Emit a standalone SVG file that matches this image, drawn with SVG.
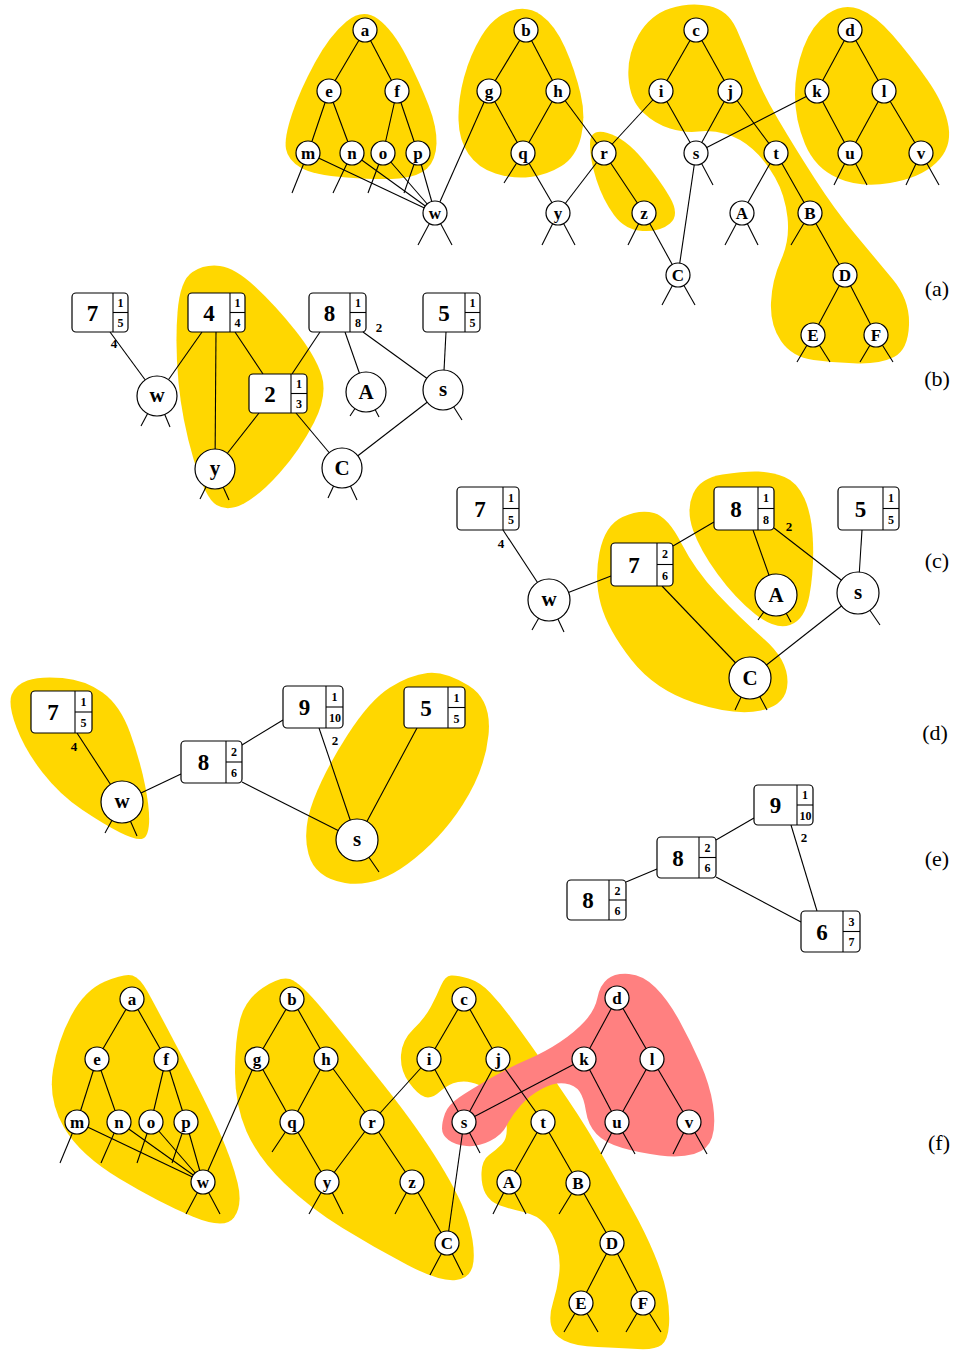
<svg xmlns="http://www.w3.org/2000/svg" width="957" height="1351" viewBox="0 0 957 1351">
<style>
.y{fill:#FFD700}
.pk{fill:#FF8080}
.e line{stroke:#000;stroke-width:1.1}
.tn circle{fill:#fff;stroke:#000;stroke-width:1.2}
.tn text{font-family:"Liberation Serif",serif;font-weight:bold;font-size:17px;text-anchor:middle}
.bn circle{fill:#fff;stroke:#000;stroke-width:1.2}
.bn text{font-family:"Liberation Serif",serif;font-weight:bold;font-size:21px;text-anchor:middle}
.bx rect{fill:#fff;stroke:#000;stroke-width:1.2}
.bx line{stroke:#000;stroke-width:1.1}
.bx .m{font-family:"Liberation Serif",serif;font-weight:bold;font-size:23px;text-anchor:middle}
.bx .s{font-family:"Liberation Serif",serif;font-weight:bold;font-size:12px;text-anchor:middle}
.el{font-family:"Liberation Serif",serif;font-weight:bold;font-size:13px;text-anchor:middle}
.lab{font-family:"Liberation Serif",serif;font-size:22px;text-anchor:middle}
</style>

<!-- ========== (a) ========== -->
<g id="a-blobs">
<path class="y" d="M 378 19 Q 393 30 406.5 56.5 Q 420 83 428.5 105 Q 437 127 436.5 143.5 Q 436 160 427 168.5 Q 418 177 399 178.5 Q 380 180 346.5 177.5 Q 313 175 300.5 167.5 Q 288 160 286 149 Q 284 138 292 114 Q 300 90 315 62.5 Q 330 35 346.5 21.5 Q 363 8 378 19 Z"/>
<path class="y" d="M 541 15 Q 555 25 565 47.5 Q 575 70 580.5 93.5 Q 586 117 581 137 Q 576 157 561.5 166 Q 547 175 530 177 Q 513 179 495.5 173.5 Q 478 168 468.5 154 Q 459 140 458.5 120 Q 458 100 464 77.5 Q 470 55 481.5 36 Q 493 17 510 11 Q 527 5 541 15 Z"/>
<path class="y" d="M 607.5 133 Q 625 138 642.5 159 Q 660 180 670 197.5 Q 680 215 670 223.5 Q 660 232 642.5 231 Q 625 230 614 215 Q 603 200 596.5 180 Q 590 160 590 144 Q 590 128 607.5 133 Z"/>
<path class="y" d="M 709 6 Q 728 10 736.5 29 Q 745 48 753.5 70 Q 762 92 778.5 120 Q 795 148 815 179 Q 835 210 855 234 Q 875 258 892.5 279 Q 910 300 909 325 Q 908 350 894 357 Q 880 364 857.5 363.5 Q 835 363 813.5 360 Q 792 357 781 341 Q 770 325 771 302.5 Q 772 280 781 260 Q 790 240 787.5 217.5 Q 785 195 775 177.5 Q 765 160 752.5 149 Q 740 138 726 134 Q 712 130 698.5 131.5 Q 685 133 670 128.5 Q 655 124 642.5 112 Q 630 100 628.5 77.5 Q 627 55 638.5 35 Q 650 15 670 8.5 Q 690 2 709 6 Z"/>
<path class="y" d="M 827.5 14 Q 812 25 803.5 47.5 Q 795 70 795 95 Q 795 120 805 144 Q 815 168 837.5 178 Q 860 188 890 183 Q 920 178 936 163 Q 952 148 948.5 126.5 Q 945 105 927.5 80 Q 910 55 892.5 35 Q 875 15 859 9 Q 843 3 827.5 14 Z"/>
</g>
<g id="a-edges" class="e">
<line x1="365" y1="30" x2="329" y2="91"/><line x1="365" y1="30" x2="397" y2="91"/>
<line x1="329" y1="91" x2="308" y2="153"/><line x1="329" y1="91" x2="352" y2="153"/>
<line x1="397" y1="91" x2="383" y2="153"/><line x1="397" y1="91" x2="418" y2="153"/>
<line x1="308" y1="153" x2="435" y2="213"/><line x1="352" y1="153" x2="435" y2="213"/>
<line x1="383" y1="153" x2="435" y2="213"/><line x1="418" y1="153" x2="435" y2="213"/>
<line x1="489" y1="91" x2="435" y2="213"/>
<line x1="526" y1="30" x2="489" y2="91"/><line x1="526" y1="30" x2="558" y2="91"/>
<line x1="489" y1="91" x2="523" y2="153"/><line x1="558" y1="91" x2="523" y2="153"/>
<line x1="558" y1="91" x2="604" y2="153"/><line x1="523" y1="153" x2="558" y2="213"/>
<line x1="604" y1="153" x2="558" y2="213"/><line x1="604" y1="153" x2="644" y2="213"/>
<line x1="661" y1="91" x2="604" y2="153"/>
<line x1="696" y1="30" x2="661" y2="91"/><line x1="696" y1="30" x2="730" y2="91"/>
<line x1="661" y1="91" x2="696" y2="153"/><line x1="730" y1="91" x2="696" y2="153"/>
<line x1="730" y1="91" x2="776" y2="153"/><line x1="817" y1="91" x2="696" y2="153"/>
<line x1="696" y1="153" x2="678" y2="275"/><line x1="644" y1="213" x2="678" y2="275"/>
<line x1="776" y1="153" x2="742" y2="213"/><line x1="776" y1="153" x2="810" y2="213"/>
<line x1="810" y1="213" x2="845" y2="275"/><line x1="845" y1="275" x2="813" y2="335"/>
<line x1="845" y1="275" x2="876" y2="335"/>
<line x1="850" y1="30" x2="817" y2="91"/><line x1="850" y1="30" x2="884" y2="91"/>
<line x1="817" y1="91" x2="850" y2="153"/><line x1="884" y1="91" x2="850" y2="153"/>
<line x1="884" y1="91" x2="921" y2="153"/>
<line x1="308" y1="153" x2="292" y2="193"/><line x1="352" y1="153" x2="333" y2="193"/>
<line x1="383" y1="153" x2="368" y2="193"/><line x1="418" y1="153" x2="404" y2="193"/>
<line x1="435" y1="213" x2="418" y2="245"/><line x1="435" y1="213" x2="452" y2="245"/>
<line x1="523" y1="153" x2="504" y2="183"/>
<line x1="558" y1="213" x2="542" y2="245"/><line x1="558" y1="213" x2="575" y2="245"/>
<line x1="696" y1="153" x2="713" y2="185"/><line x1="644" y1="213" x2="628" y2="245"/>
<line x1="742" y1="213" x2="725" y2="245"/><line x1="742" y1="213" x2="758" y2="245"/>
<line x1="810" y1="213" x2="791" y2="245"/>
<line x1="678" y1="275" x2="662" y2="305"/><line x1="678" y1="275" x2="695" y2="305"/>
<line x1="813" y1="335" x2="797" y2="362"/><line x1="813" y1="335" x2="830" y2="362"/>
<line x1="876" y1="335" x2="860" y2="362"/><line x1="876" y1="335" x2="893" y2="362"/>
<line x1="850" y1="153" x2="834" y2="185"/><line x1="850" y1="153" x2="867" y2="185"/>
<line x1="921" y1="153" x2="906" y2="185"/><line x1="921" y1="153" x2="939" y2="185"/>
</g>
<g class="tn">
<g id="a-a"><circle cx="365" cy="30" r="12"/><text x="365" y="35.5">a</text></g>
<g id="a-e"><circle cx="329" cy="91" r="12"/><text x="329" y="96.5">e</text></g>
<g id="a-f"><circle cx="397" cy="91" r="12"/><text x="397" y="96.5">f</text></g>
<g id="a-m"><circle cx="308" cy="153" r="12"/><text x="308" y="158.5">m</text></g>
<g id="a-n"><circle cx="352" cy="153" r="12"/><text x="352" y="158.5">n</text></g>
<g id="a-o"><circle cx="383" cy="153" r="12"/><text x="383" y="158.5">o</text></g>
<g id="a-p"><circle cx="418" cy="153" r="12"/><text x="418" y="158.5">p</text></g>
<g id="a-w"><circle cx="435" cy="213" r="12"/><text x="435" y="218.5">w</text></g>
<g id="a-b"><circle cx="526" cy="30" r="12"/><text x="526" y="35.5">b</text></g>
<g id="a-g"><circle cx="489" cy="91" r="12"/><text x="489" y="96.5">g</text></g>
<g id="a-h"><circle cx="558" cy="91" r="12"/><text x="558" y="96.5">h</text></g>
<g id="a-q"><circle cx="523" cy="153" r="12"/><text x="523" y="158.5">q</text></g>
<g id="a-y"><circle cx="558" cy="213" r="12"/><text x="558" y="218.5">y</text></g>
<g id="a-r"><circle cx="604" cy="153" r="12"/><text x="604" y="158.5">r</text></g>
<g id="a-z"><circle cx="644" cy="213" r="12"/><text x="644" y="218.5">z</text></g>
<g id="a-c"><circle cx="696" cy="30" r="12"/><text x="696" y="35.5">c</text></g>
<g id="a-i"><circle cx="661" cy="91" r="12"/><text x="661" y="96.5">i</text></g>
<g id="a-j"><circle cx="730" cy="91" r="12"/><text x="730" y="96.5">j</text></g>
<g id="a-s"><circle cx="696" cy="153" r="12"/><text x="696" y="158.5">s</text></g>
<g id="a-t"><circle cx="776" cy="153" r="12"/><text x="776" y="158.5">t</text></g>
<g id="a-C"><circle cx="678" cy="275" r="12"/><text x="678" y="281">C</text></g>
<g id="a-A"><circle cx="742" cy="213" r="12"/><text x="742" y="219">A</text></g>
<g id="a-B"><circle cx="810" cy="213" r="12"/><text x="810" y="219">B</text></g>
<g id="a-D"><circle cx="845" cy="275" r="12"/><text x="845" y="281">D</text></g>
<g id="a-E"><circle cx="813" cy="335" r="12"/><text x="813" y="341">E</text></g>
<g id="a-F"><circle cx="876" cy="335" r="12"/><text x="876" y="341">F</text></g>
<g id="a-d"><circle cx="850" cy="30" r="12"/><text x="850" y="35.5">d</text></g>
<g id="a-k"><circle cx="817" cy="91" r="12"/><text x="817" y="96.5">k</text></g>
<g id="a-l"><circle cx="884" cy="91" r="12"/><text x="884" y="96.5">l</text></g>
<g id="a-u"><circle cx="850" cy="153" r="12"/><text x="850" y="158.5">u</text></g>
<g id="a-v"><circle cx="921" cy="153" r="12"/><text x="921" y="158.5">v</text></g>
</g>
<text class="lab" x="937" y="296">(a)</text>

<!-- ========== (b) ========== -->
<path class="y" d="M 192.5 272 Q 180 280 177.5 312.5 Q 175 345 178.5 382.5 Q 182 420 193.5 459 Q 205 498 216.5 505 Q 228 512 244 503.5 Q 260 495 280 472.5 Q 300 450 314 422.5 Q 328 395 321.5 375 Q 315 355 295 330 Q 275 305 255 286.5 Q 235 268 220 266 Q 205 264 192.5 272 Z"/>
<g id="b-edges" class="e">
<line x1="110" y1="332" x2="157" y2="396"/><line x1="202" y1="332" x2="157" y2="396"/>
<line x1="216" y1="332" x2="215" y2="469"/><line x1="235" y1="332" x2="263" y2="374"/>
<line x1="320" y1="332" x2="292" y2="374"/><line x1="345" y1="332" x2="366" y2="392"/>
<line x1="363" y1="332" x2="443" y2="390"/><line x1="446" y1="332" x2="443" y2="390"/>
<line x1="259" y1="413" x2="215" y2="469"/><line x1="296" y1="413" x2="342" y2="468"/>
<line x1="443" y1="390" x2="342" y2="468"/>
<line x1="157" y1="396" x2="141" y2="426"/><line x1="157" y1="396" x2="170" y2="427"/>
<line x1="215" y1="469" x2="200" y2="499"/><line x1="215" y1="469" x2="229" y2="500"/>
<line x1="366" y1="392" x2="350" y2="416"/><line x1="366" y1="392" x2="379" y2="417"/>
<line x1="443" y1="390" x2="462" y2="420"/>
<line x1="342" y1="468" x2="328" y2="498"/><line x1="342" y1="468" x2="357" y2="500"/>
</g>
<g class="bx">
<g id="b-7"><rect x="72" y="293" width="56" height="39" rx="4"/><line x1="113" y1="293" x2="113" y2="332"/><line x1="113" y1="312.5" x2="128" y2="312.5"/><text class="m" x="92.5" y="320.5">7</text><text class="s" x="120.5" y="307">1</text><text class="s" x="120.5" y="326.5">5</text></g>
<g id="b-4"><rect x="188" y="293" width="57" height="39" rx="4"/><line x1="230" y1="293" x2="230" y2="332"/><line x1="230" y1="312.5" x2="245" y2="312.5"/><text class="m" x="209" y="320.5">4</text><text class="s" x="237.5" y="307">1</text><text class="s" x="237.5" y="326.5">4</text></g>
<g id="b-8"><rect x="309" y="293" width="57" height="39" rx="4"/><line x1="350" y1="293" x2="350" y2="332"/><line x1="350" y1="312.5" x2="366" y2="312.5"/><text class="m" x="329.5" y="320.5">8</text><text class="s" x="358" y="307">1</text><text class="s" x="358" y="326.5">8</text></g>
<g id="b-5"><rect x="423" y="293" width="57" height="39" rx="4"/><line x1="465" y1="293" x2="465" y2="332"/><line x1="465" y1="312.5" x2="480" y2="312.5"/><text class="m" x="444" y="320.5">5</text><text class="s" x="472.5" y="307">1</text><text class="s" x="472.5" y="326.5">5</text></g>
<g id="b-2"><rect x="249" y="374" width="58" height="39" rx="4"/><line x1="291" y1="374" x2="291" y2="413"/><line x1="291" y1="393.5" x2="307" y2="393.5"/><text class="m" x="270" y="401.5">2</text><text class="s" x="299" y="388">1</text><text class="s" x="299" y="407.5">3</text></g>
</g>
<g class="bn">
<g id="b-w"><circle cx="157" cy="396" r="20"/><text x="157" y="402">w</text></g>
<g id="b-y"><circle cx="215" cy="469" r="20"/><text x="215" y="475">y</text></g>
<g id="b-A"><circle cx="366" cy="392" r="20"/><text x="366" y="399">A</text></g>
<g id="b-s"><circle cx="443" cy="390" r="20"/><text x="443" y="396">s</text></g>
<g id="b-C"><circle cx="342" cy="468" r="20"/><text x="342" y="475">C</text></g>
</g>
<text class="el" x="114" y="348">4</text>
<text class="el" x="379" y="332">2</text>
<text class="lab" x="937" y="386">(b)</text>

<!-- ========== (c) ========== -->
<path class="y" d="M 722.5 474.5 Q 700 478 693 494 Q 686 510 693 530 Q 700 550 717.5 574 Q 735 598 755 614 Q 775 630 790 625 Q 805 620 809.5 595 Q 814 570 813 542.5 Q 812 515 804.5 498.5 Q 797 482 784.5 477 Q 772 472 758.5 471.5 Q 745 471 722.5 474.5 Z"/>
<path class="y" d="M 622.5 517 Q 605 525 599.5 552.5 Q 594 580 601 605 Q 608 630 631.5 660 Q 655 690 695 703 Q 735 716 761 710.5 Q 787 705 787.5 682.5 Q 788 660 764 639 Q 740 618 717.5 594 Q 695 570 681.5 543.5 Q 668 517 654 513 Q 640 509 622.5 517 Z"/>
<g id="c-edges" class="e">
<line x1="503" y1="530" x2="549" y2="600"/><line x1="549" y1="600" x2="611" y2="576"/>
<line x1="673" y1="546" x2="714" y2="522"/><line x1="662" y1="586" x2="750" y2="678"/>
<line x1="753" y1="530" x2="776" y2="595"/><line x1="774" y1="528" x2="858" y2="593"/>
<line x1="862" y1="530" x2="858" y2="593"/><line x1="858" y1="593" x2="750" y2="678"/>
<line x1="549" y1="600" x2="532" y2="630"/><line x1="549" y1="600" x2="564" y2="632"/>
<line x1="776" y1="595" x2="758" y2="620"/><line x1="776" y1="595" x2="791" y2="622"/>
<line x1="858" y1="593" x2="880" y2="625"/>
<line x1="750" y1="678" x2="735" y2="710"/><line x1="750" y1="678" x2="767" y2="710"/>
</g>
<g class="bx">
<g id="c-7a"><rect x="457" y="487" width="62" height="43" rx="4"/><line x1="503" y1="487" x2="503" y2="530"/><line x1="503" y1="508.5" x2="519" y2="508.5"/><text class="m" x="480" y="516.5">7</text><text class="s" x="511" y="502">1</text><text class="s" x="511" y="523.5">5</text></g>
<g id="c-8"><rect x="714" y="487" width="60" height="43" rx="4"/><line x1="758" y1="487" x2="758" y2="530"/><line x1="758" y1="508.5" x2="774" y2="508.5"/><text class="m" x="736" y="516.5">8</text><text class="s" x="766" y="502">1</text><text class="s" x="766" y="523.5">8</text></g>
<g id="c-5"><rect x="838" y="487" width="61" height="43" rx="4"/><line x1="883" y1="487" x2="883" y2="530"/><line x1="883" y1="508.5" x2="899" y2="508.5"/><text class="m" x="860.5" y="516.5">5</text><text class="s" x="891" y="502">1</text><text class="s" x="891" y="523.5">5</text></g>
<g id="c-7b"><rect x="611" y="543" width="62" height="43" rx="4"/><line x1="657" y1="543" x2="657" y2="586"/><line x1="657" y1="564.5" x2="673" y2="564.5"/><text class="m" x="634" y="572.5">7</text><text class="s" x="665" y="558">2</text><text class="s" x="665" y="579.5">6</text></g>
</g>
<g class="bn">
<g id="c-w"><circle cx="549" cy="600" r="21"/><text x="549" y="606">w</text></g>
<g id="c-A"><circle cx="776" cy="595" r="21"/><text x="776" y="602">A</text></g>
<g id="c-s"><circle cx="858" cy="593" r="21"/><text x="858" y="599">s</text></g>
<g id="c-C"><circle cx="750" cy="678" r="21"/><text x="750" y="685">C</text></g>
</g>
<text class="el" x="501" y="548">4</text>
<text class="el" x="789" y="531">2</text>
<text class="lab" x="937" y="568">(c)</text>

<!-- ========== (d) ========== -->
<path class="y" d="M 62.5 678 Q 85 680 102.5 692.5 Q 120 705 130 732.5 Q 140 760 145 785 Q 150 810 149 824 Q 148 838 141.5 839 Q 135 840 120 832.5 Q 105 825 82.5 810 Q 60 795 42.5 772.5 Q 25 750 16.5 727.5 Q 8 705 11.5 695 Q 15 685 27.5 680.5 Q 40 676 62.5 678 Z"/>
<path class="y" d="M 468.5 685.5 Q 492 700 488.5 735 Q 485 770 462.5 805 Q 440 840 407.5 864 Q 375 888 345 883 Q 315 878 308.5 854 Q 302 830 313.5 800 Q 325 770 347.5 735 Q 370 700 390 687.5 Q 410 675 427.5 673 Q 445 671 468.5 685.5 Z"/>
<g id="d-edges" class="e">
<line x1="77" y1="733" x2="122" y2="802"/><line x1="122" y1="802" x2="181" y2="774"/>
<line x1="242" y1="745" x2="283" y2="720"/><line x1="242" y1="782" x2="357" y2="840"/>
<line x1="319" y1="728" x2="357" y2="840"/><line x1="417" y1="728" x2="357" y2="840"/>
<line x1="122" y1="802" x2="105" y2="833"/><line x1="122" y1="802" x2="137" y2="836"/>
<line x1="357" y1="840" x2="379" y2="872"/>
</g>
<g class="bx">
<g id="d-7"><rect x="31" y="691" width="61" height="42" rx="4"/><line x1="75" y1="691" x2="75" y2="733"/><line x1="75" y1="712" x2="92" y2="712"/><text class="m" x="53" y="720">7</text><text class="s" x="83.5" y="706">1</text><text class="s" x="83.5" y="727">5</text></g>
<g id="d-9"><rect x="283" y="686" width="60" height="42" rx="4"/><line x1="326" y1="686" x2="326" y2="728"/><line x1="326" y1="707" x2="343" y2="707"/><text class="m" x="304.5" y="715">9</text><text class="s" x="334.5" y="701">1</text><text class="s" x="335" y="722">10</text></g>
<g id="d-5"><rect x="404" y="687" width="61" height="41" rx="4"/><line x1="448" y1="687" x2="448" y2="728"/><line x1="448" y1="707.5" x2="465" y2="707.5"/><text class="m" x="426" y="716">5</text><text class="s" x="456.5" y="702">1</text><text class="s" x="456.5" y="722.5">5</text></g>
<g id="d-8"><rect x="181" y="741" width="61" height="42" rx="4"/><line x1="226" y1="741" x2="226" y2="783"/><line x1="226" y1="762" x2="242" y2="762"/><text class="m" x="203.5" y="770">8</text><text class="s" x="234" y="756">2</text><text class="s" x="234" y="777">6</text></g>
</g>
<g class="bn">
<g id="d-w"><circle cx="122" cy="802" r="21"/><text x="122" y="808">w</text></g>
<g id="d-s"><circle cx="357" cy="840" r="21"/><text x="357" y="846">s</text></g>
</g>
<text class="el" x="74" y="751">4</text>
<text class="el" x="335" y="745">2</text>
<text class="lab" x="935" y="740">(d)</text>

<!-- ========== (e) ========== -->
<g id="e-edges" class="e">
<line x1="626" y1="882" x2="657" y2="869"/><line x1="716" y1="840" x2="754" y2="818"/>
<line x1="716" y1="877" x2="801" y2="922"/><line x1="791" y1="825" x2="817" y2="911"/>
</g>
<g class="bx">
<g id="e-9"><rect x="754" y="785" width="59" height="40" rx="4"/><line x1="797" y1="785" x2="797" y2="825"/><line x1="797" y1="805" x2="813" y2="805"/><text class="m" x="775.5" y="813">9</text><text class="s" x="805" y="799">1</text><text class="s" x="805.5" y="819.5">10</text></g>
<g id="e-8m"><rect x="657" y="837" width="59" height="41" rx="4"/><line x1="699" y1="837" x2="699" y2="878"/><line x1="699" y1="857.5" x2="716" y2="857.5"/><text class="m" x="678" y="865.5">8</text><text class="s" x="707.5" y="851.5">2</text><text class="s" x="707.5" y="872">6</text></g>
<g id="e-8l"><rect x="567" y="880" width="59" height="40" rx="4"/><line x1="609" y1="880" x2="609" y2="920"/><line x1="609" y1="900" x2="626" y2="900"/><text class="m" x="588" y="908">8</text><text class="s" x="617.5" y="894.5">2</text><text class="s" x="617.5" y="914.5">6</text></g>
<g id="e-6"><rect x="801" y="911" width="59" height="41" rx="4"/><line x1="843" y1="911" x2="843" y2="952"/><line x1="843" y1="931.5" x2="860" y2="931.5"/><text class="m" x="822" y="939.5">6</text><text class="s" x="851.5" y="925.5">3</text><text class="s" x="851.5" y="946">7</text></g>
</g>
<text class="el" x="804" y="842">2</text>
<text class="lab" x="937" y="866">(e)</text>

<!-- ========== (f) ========== -->
<g id="f-blobs">
<path class="y" d="M 105 981.5 Q 85 990 71.5 1015 Q 58 1040 53 1070 Q 48 1100 64 1127.5 Q 80 1155 120 1179 Q 160 1203 192.5 1216.5 Q 225 1230 234 1217.5 Q 243 1205 237.5 1182.5 Q 232 1160 218.5 1130 Q 205 1100 180 1052.5 Q 155 1005 147.5 991.5 Q 140 978 132.5 975.5 Q 125 973 105 981.5 Z"/>
<path class="y" d="M 262.5 988 Q 245 1000 240 1020 Q 235 1040 235 1072.5 Q 235 1105 246.5 1131.5 Q 258 1158 284 1183 Q 310 1208 342.5 1228 Q 375 1248 407.5 1265 Q 440 1282 456 1280 Q 472 1278 473.5 1261.5 Q 475 1245 468.5 1222.5 Q 462 1200 440 1164 Q 418 1128 383 1084 Q 348 1040 324 1011 Q 300 982 290 979 Q 280 976 262.5 988 Z"/>
<path class="y" d="M 468.5 978.5 Q 480 982 490 992.5 Q 500 1003 510 1016.5 Q 520 1030 530 1044 Q 540 1058 550 1073 Q 560 1088 568.5 1100.5 Q 577 1113 586 1127.5 Q 595 1142 607.5 1164.5 Q 620 1187 632.5 1209.5 Q 645 1232 654 1253.5 Q 663 1275 666.5 1292.5 Q 670 1310 669 1325 Q 668 1340 661.5 1345 Q 655 1350 637.5 1349 Q 620 1348 597.5 1347 Q 575 1346 564 1340.5 Q 553 1335 551 1325 Q 549 1315 553 1302.5 Q 557 1290 559 1275 Q 561 1260 557 1246.5 Q 553 1233 545 1224 Q 537 1215 523.5 1212 Q 510 1209 500 1205.5 Q 490 1202 485.5 1193.5 Q 481 1185 481.5 1172.5 Q 482 1160 489 1155 Q 496 1150 502 1144 Q 508 1138 506.5 1124 Q 505 1110 497.5 1100 Q 490 1090 479 1085 Q 468 1080 458 1082 Q 448 1084 440 1091.5 Q 432 1099 425 1097 Q 418 1095 409 1082.5 Q 400 1070 401 1055 Q 402 1040 413.5 1029 Q 425 1018 431 1006.5 Q 437 995 441 985.5 Q 445 976 451 975.5 Q 457 975 468.5 978.5 Z"/>
<path class="pk" d="M 445 1113.5 Q 448 1105 459 1097.5 Q 470 1090 490 1078.5 Q 510 1067 527.5 1059.5 Q 545 1052 560 1042 Q 575 1032 585 1021 Q 595 1010 597.5 997.5 Q 600 985 607.5 979 Q 615 973 629 974 Q 643 975 655.5 987.5 Q 668 1000 679 1020 Q 690 1040 700 1062.5 Q 710 1085 713 1105 Q 716 1125 712 1137.5 Q 708 1150 694 1154 Q 680 1158 660 1155.5 Q 640 1153 622.5 1148 Q 605 1143 596.5 1134 Q 588 1125 586 1111.5 Q 584 1098 579.5 1091.5 Q 575 1085 565 1083.5 Q 555 1082 542.5 1088.5 Q 530 1095 521 1105 Q 512 1115 507 1125 Q 502 1135 490 1141 Q 478 1147 466.5 1146 Q 455 1145 448.5 1140 Q 442 1135 442 1128.5 Q 442 1122 445 1113.5 Z"/>
</g>
<g id="f-edges" class="e">
<line x1="132" y1="999" x2="97" y2="1059"/><line x1="132" y1="999" x2="166" y2="1059"/>
<line x1="97" y1="1059" x2="77" y2="1122"/><line x1="97" y1="1059" x2="119" y2="1122"/>
<line x1="166" y1="1059" x2="151" y2="1122"/><line x1="166" y1="1059" x2="186" y2="1122"/>
<line x1="77" y1="1122" x2="203" y2="1182"/><line x1="119" y1="1122" x2="203" y2="1182"/>
<line x1="151" y1="1122" x2="203" y2="1182"/><line x1="186" y1="1122" x2="203" y2="1182"/>
<line x1="257" y1="1059" x2="203" y2="1182"/>
<line x1="292" y1="999" x2="257" y2="1059"/><line x1="292" y1="999" x2="326" y2="1059"/>
<line x1="257" y1="1059" x2="292" y2="1122"/><line x1="326" y1="1059" x2="292" y2="1122"/>
<line x1="326" y1="1059" x2="372" y2="1122"/><line x1="292" y1="1122" x2="327" y2="1182"/>
<line x1="372" y1="1122" x2="327" y2="1182"/><line x1="372" y1="1122" x2="412" y2="1182"/>
<line x1="429" y1="1059" x2="372" y2="1122"/>
<line x1="464" y1="999" x2="429" y2="1059"/><line x1="464" y1="999" x2="498" y2="1059"/>
<line x1="429" y1="1059" x2="464" y2="1122"/><line x1="498" y1="1059" x2="464" y2="1122"/>
<line x1="498" y1="1059" x2="543" y2="1122"/><line x1="584" y1="1059" x2="464" y2="1122"/>
<line x1="464" y1="1122" x2="447" y2="1243"/><line x1="412" y1="1182" x2="447" y2="1243"/>
<line x1="543" y1="1122" x2="509" y2="1182"/><line x1="543" y1="1122" x2="578" y2="1183"/>
<line x1="578" y1="1183" x2="612" y2="1243"/><line x1="612" y1="1243" x2="581" y2="1303"/>
<line x1="612" y1="1243" x2="643" y2="1303"/>
<line x1="617" y1="998" x2="584" y2="1059"/><line x1="617" y1="998" x2="652" y2="1059"/>
<line x1="584" y1="1059" x2="617" y2="1122"/><line x1="652" y1="1059" x2="617" y2="1122"/>
<line x1="652" y1="1059" x2="689" y2="1122"/>
<line x1="77" y1="1122" x2="60" y2="1163"/><line x1="119" y1="1122" x2="101" y2="1163"/>
<line x1="151" y1="1122" x2="137" y2="1163"/><line x1="186" y1="1122" x2="172" y2="1163"/>
<line x1="203" y1="1182" x2="186" y2="1214"/><line x1="203" y1="1182" x2="220" y2="1214"/>
<line x1="292" y1="1122" x2="272" y2="1152"/>
<line x1="327" y1="1182" x2="309" y2="1214"/><line x1="327" y1="1182" x2="343" y2="1214"/>
<line x1="412" y1="1182" x2="395" y2="1214"/>
<line x1="447" y1="1243" x2="430" y2="1275"/><line x1="447" y1="1243" x2="463" y2="1275"/>
<line x1="464" y1="1122" x2="480" y2="1153"/>
<line x1="509" y1="1182" x2="493" y2="1214"/><line x1="509" y1="1182" x2="526" y2="1214"/>
<line x1="578" y1="1183" x2="559" y2="1214"/>
<line x1="581" y1="1303" x2="564" y2="1332"/><line x1="581" y1="1303" x2="598" y2="1332"/>
<line x1="643" y1="1303" x2="626" y2="1332"/><line x1="643" y1="1303" x2="661" y2="1332"/>
<line x1="617" y1="1122" x2="601" y2="1154"/><line x1="617" y1="1122" x2="635" y2="1154"/>
<line x1="689" y1="1122" x2="673" y2="1154"/><line x1="689" y1="1122" x2="707" y2="1154"/>
</g>
<g class="tn">
<g id="f-a"><circle cx="132" cy="999" r="12"/><text x="132" y="1004.5">a</text></g>
<g id="f-e"><circle cx="97" cy="1059" r="12"/><text x="97" y="1064.5">e</text></g>
<g id="f-f"><circle cx="166" cy="1059" r="12"/><text x="166" y="1064.5">f</text></g>
<g id="f-m"><circle cx="77" cy="1122" r="12"/><text x="77" y="1127.5">m</text></g>
<g id="f-n"><circle cx="119" cy="1122" r="12"/><text x="119" y="1127.5">n</text></g>
<g id="f-o"><circle cx="151" cy="1122" r="12"/><text x="151" y="1127.5">o</text></g>
<g id="f-p"><circle cx="186" cy="1122" r="12"/><text x="186" y="1127.5">p</text></g>
<g id="f-w"><circle cx="203" cy="1182" r="12"/><text x="203" y="1187.5">w</text></g>
<g id="f-b"><circle cx="292" cy="999" r="12"/><text x="292" y="1004.5">b</text></g>
<g id="f-g"><circle cx="257" cy="1059" r="12"/><text x="257" y="1064.5">g</text></g>
<g id="f-h"><circle cx="326" cy="1059" r="12"/><text x="326" y="1064.5">h</text></g>
<g id="f-q"><circle cx="292" cy="1122" r="12"/><text x="292" y="1127.5">q</text></g>
<g id="f-r"><circle cx="372" cy="1122" r="12"/><text x="372" y="1127.5">r</text></g>
<g id="f-y"><circle cx="327" cy="1182" r="12"/><text x="327" y="1187.5">y</text></g>
<g id="f-z"><circle cx="412" cy="1182" r="12"/><text x="412" y="1187.5">z</text></g>
<g id="f-C"><circle cx="447" cy="1243" r="12"/><text x="447" y="1249">C</text></g>
<g id="f-c"><circle cx="464" cy="999" r="12"/><text x="464" y="1004.5">c</text></g>
<g id="f-i"><circle cx="429" cy="1059" r="12"/><text x="429" y="1064.5">i</text></g>
<g id="f-j"><circle cx="498" cy="1059" r="12"/><text x="498" y="1064.5">j</text></g>
<g id="f-s"><circle cx="464" cy="1122" r="12"/><text x="464" y="1127.5">s</text></g>
<g id="f-t"><circle cx="543" cy="1122" r="12"/><text x="543" y="1127.5">t</text></g>
<g id="f-A"><circle cx="509" cy="1182" r="12"/><text x="509" y="1188">A</text></g>
<g id="f-B"><circle cx="578" cy="1183" r="12"/><text x="578" y="1189">B</text></g>
<g id="f-D"><circle cx="612" cy="1243" r="12"/><text x="612" y="1249">D</text></g>
<g id="f-E"><circle cx="581" cy="1303" r="12"/><text x="581" y="1309">E</text></g>
<g id="f-F"><circle cx="643" cy="1303" r="12"/><text x="643" y="1309">F</text></g>
<g id="f-d"><circle cx="617" cy="998" r="12"/><text x="617" y="1003.5">d</text></g>
<g id="f-k"><circle cx="584" cy="1059" r="12"/><text x="584" y="1064.5">k</text></g>
<g id="f-l"><circle cx="652" cy="1059" r="12"/><text x="652" y="1064.5">l</text></g>
<g id="f-u"><circle cx="617" cy="1122" r="12"/><text x="617" y="1127.5">u</text></g>
<g id="f-v"><circle cx="689" cy="1122" r="12"/><text x="689" y="1127.5">v</text></g>
</g>
<text class="lab" x="939" y="1150">(f)</text>
</svg>
